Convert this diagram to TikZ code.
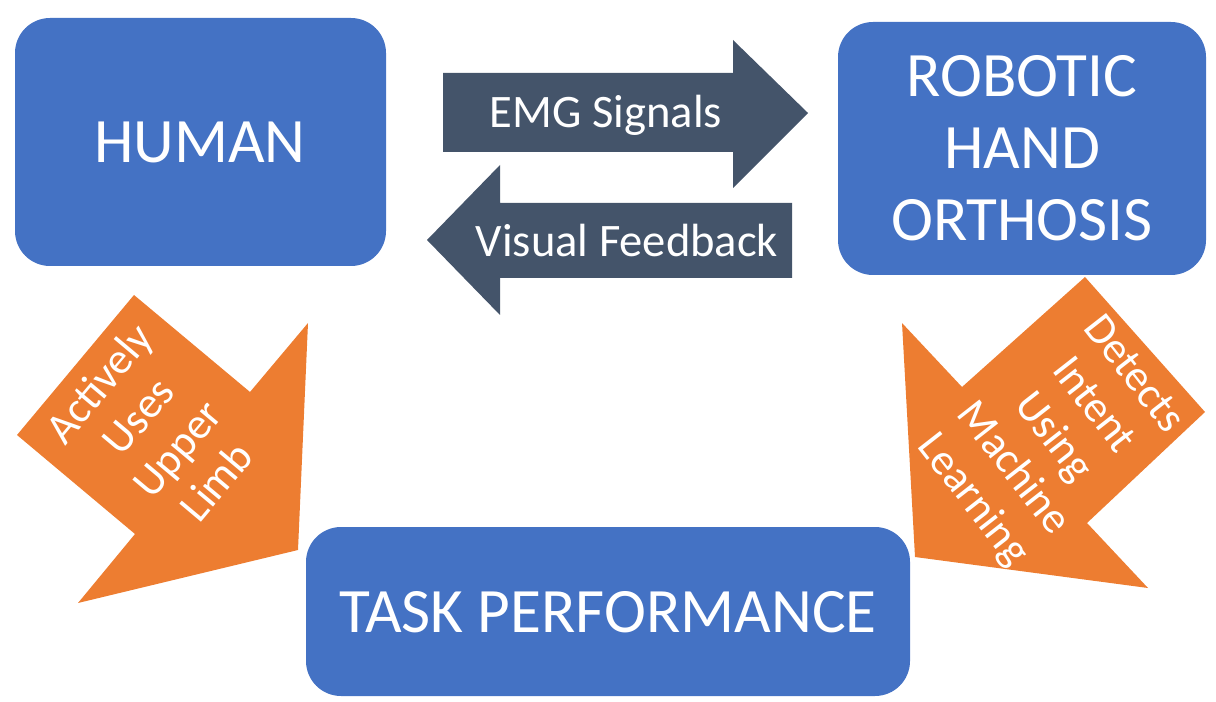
\documentclass[tikz,border=0pt]{standalone}
\usepackage{fontspec}
\setmainfont{Carlito}
\usetikzlibrary{positioning}
\definecolor{boxblue}{HTML}{4472C4}
\definecolor{slate}{HTML}{44546A}
\definecolor{orng}{HTML}{ED7D31}
\tikzset{
  box/.style={fill=boxblue,rounded corners=0.7cm,text=white,font=\fontsize{36}{41}\selectfont,align=center,inner sep=0pt},
  flow/.style={text=white,font=\fontsize{26.5}{30}\selectfont,align=center},
  side/.style={text=white,font=\fontsize{25}{29}\selectfont,align=center,inner sep=0pt}
}
\begin{document}
\begin{tikzpicture}[x=0.02cm,y=-0.02cm]
\useasboundingbox (0,0) rectangle (1216,702);

% --- boxes ---
\fill[boxblue,rounded corners=0.7cm] (15,18) rectangle (386,266);
\node[box] (human) at (200,142) {HUMAN};
\fill[boxblue,rounded corners=0.7cm] (838,22) rectangle (1206,275);
\node[box] (robot) at (1022,148) {ROBOTIC\\HAND\\ORTHOSIS};
\fill[boxblue,rounded corners=0.7cm] (306,527) rectangle (910,696);
\node[box] (task) at (608,612) {TASK PERFORMANCE};

% --- dark arrows ---
\fill[slate] (443,73) -- (733,73) -- (733,40) -- (808,113) -- (733,188) -- (733,152) -- (443,152) -- cycle;
\node[flow] (emg) at (606,115) {EMG Signals};
\fill[slate] (792,203) -- (500,203) -- (500,165) -- (427,240) -- (500,315) -- (500,278) -- (792,278) -- cycle;
\node[flow] (vis) at (627,241) {Visual Feedback};

% --- orange arrows ---
\fill[orng] (17,435) -- (134,295) -- (250,392) -- (308,323) -- (298,550) -- (78,603) -- (135,534) -- cycle;
\node[side,rotate=50] (uses) at (157,432) {Actively\\Uses\\Upper\\Limb};
\fill[orng] (1085,277) -- (1205,412) -- (1087,523) -- (1148,588) -- (915,557) -- (902,323) -- (962,387) -- cycle;
\node[side,rotate=-52] (ml) at (1052,438) {Detects\\Intent\\Using\\Machine\\Learning};

\end{tikzpicture}
\end{document}
